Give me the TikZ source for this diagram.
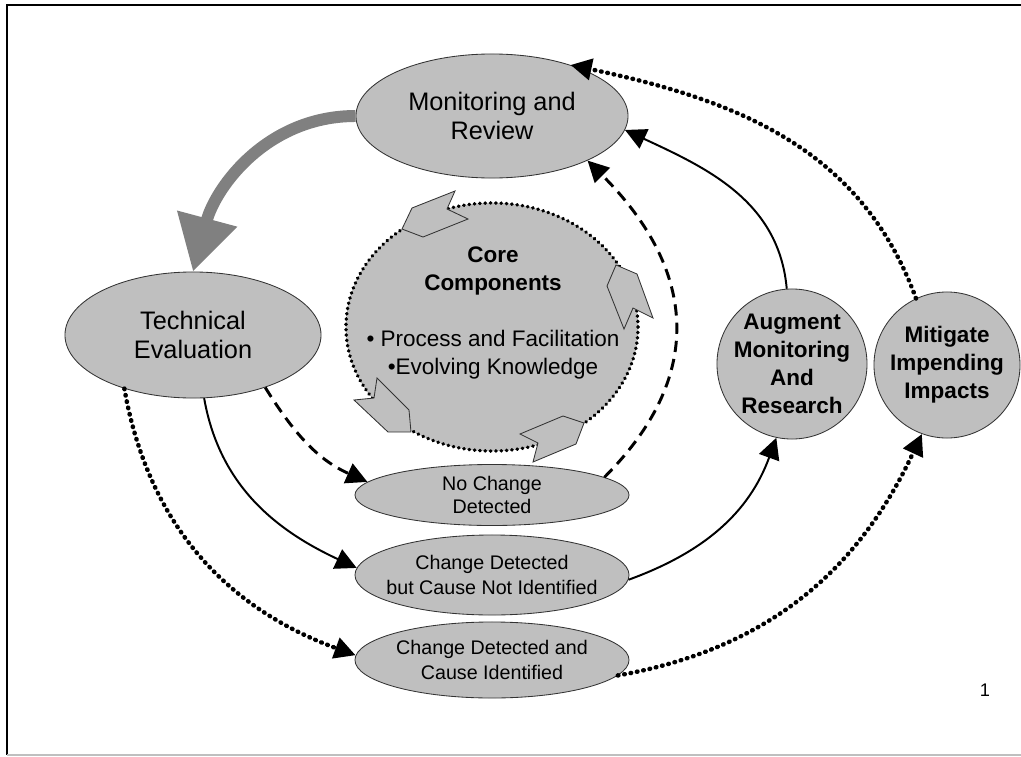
\documentclass[tikz,border=0pt]{standalone}
\usepackage{fontspec}
\setmainfont{Liberation Sans}
\usetikzlibrary{arrows.meta,shapes.geometric}

\begin{document}
\begin{tikzpicture}[x=0.025cm,y=-0.025cm,>={Triangle[length=15pt,width=15pt]}]

  \tikzstyle{stage}=[ellipse,draw=black!80,line width=0.6pt,fill=black!25,inner sep=0pt]
  \tikzstyle{action}=[circle,draw=black!80,line width=0.6pt,fill=black!25,inner sep=0pt]
  \tikzstyle{bigtext}=[align=center,font=\fontsize{18}{21}\selectfont]
  \tikzstyle{smalltext}=[align=center,font=\fontsize{14}{18}\selectfont]
  \tikzstyle{boldtext}=[align=center,font=\fontsize{16}{20}\selectfont\bfseries]
  \tikzstyle{chev}=[draw=black!80,line width=0.6pt,fill=black!25]
  \tikzstyle{solidflow}=[->,line width=1.4pt]
  \tikzstyle{dashflow}=[->,line width=2.1pt,dash pattern=on 8pt off 5pt]
  \tikzstyle{dotflow}=[->,line width=3.2pt,line cap=round,dash pattern=on 0.4pt off 4.2pt]

  \useasboundingbox (0,0) rectangle (1021,757);
  \draw[line width=2pt] (1021,5) -- (7,5) -- (7,755); % frame
  \draw[black!25,line width=1pt] (7,755) -- (1021,755);

  \node[stage,minimum width=6.8cm,minimum height=3.1cm,label={[bigtext]center:Monitoring and\\Review}] (mon) at (492,116) {};
  \node[stage,minimum width=6.4cm,minimum height=3.15cm,label={[bigtext]center:Technical\\Evaluation}] (tech) at (193,335) {};

  % core components
  \node[stage,draw=black,line width=2.5pt,line cap=round,dash pattern=on 0.3pt off 3.5pt,minimum width=7.3cm,minimum height=6.2cm] (core) at (492,327) {};
  \draw[chev] (402,229) -- (412,208) -- (455,191) -- (447,209) -- (468,219) -- (423,237) -- cycle;
  \draw[chev] (616,265) -- (637,274) -- (653,318) -- (633,308) -- (624,329) -- (607,286) -- cycle;
  \draw[chev] (377,378) -- (374,398) -- (354,400) -- (388,432) -- (411,432) -- (409,410) -- cycle;
  \draw[chev] (520,434) -- (538,443) -- (533,462) -- (576,444) -- (584,423) -- (563,416) -- cycle;
  \node[align=center,font=\fontsize{16}{20}\selectfont] (coretext) at (493,313)
    {\textbf{Core}\\\textbf{Components}\\[20pt]• Process and Facilitation\\•Evolving Knowledge};

  \node[action,minimum size=3.75cm,label={[boldtext]center:Augment\\Monitoring\\And\\Research}] (aug) at (792,364) {};
  \node[action,minimum size=3.65cm,label={[boldtext]center:Mitigate\\Impending\\Impacts}] (mit) at (947,365) {};

  \node[stage,minimum width=6.85cm,minimum height=1.525cm,label={[smalltext,font=\fontsize{14}{16.5}\selectfont]center:No Change\\Detected}] (nochg) at (492,495) {};
  \node[stage,minimum width=6.85cm,minimum height=2cm,label={[smalltext]center:Change Detected\\but Cause Not Identified}] (chgnot) at (492,575) {};
  \node[stage,minimum width=6.85cm,minimum height=1.9cm,label={[smalltext]center:Change Detected and\\Cause Identified}] (chgid) at (492,660) {};

  \node[font=\fontsize{13}{15}\selectfont] (page) at (985,690) {1};

  % connectors
  \draw[line width=8.5pt,black!50,-{Triangle[length=39pt,width=42pt]}] (mon.west) to[out=180,in=75] (tech.north);
  \draw[dashflow] (tech.-36) to[out=-58,in=156] (nochg.174);
  \draw[dashflow] (nochg.9) to[out=45,in=-45,looseness=1.2] (mon.-25);
  \draw[solidflow] (tech.-80) to[out=-80,in=155] (chgnot.177);
  \draw[solidflow] (chgnot.-2) to[out=20,in=-110] (aug.-102);
  \draw[solidflow] (aug.94) to[out=95,in=-25] (mon.-6);
  \draw[dotflow] (tech.-142) to[out=-80,in=160] (chgid.178);
  \draw[dotflow] (chgid.-7) to[out=10,in=-115] (mit.-110);
  \draw[dotflow] (mit.115) to[out=110,in=-12] (mon.33);

\end{tikzpicture}
\end{document}
